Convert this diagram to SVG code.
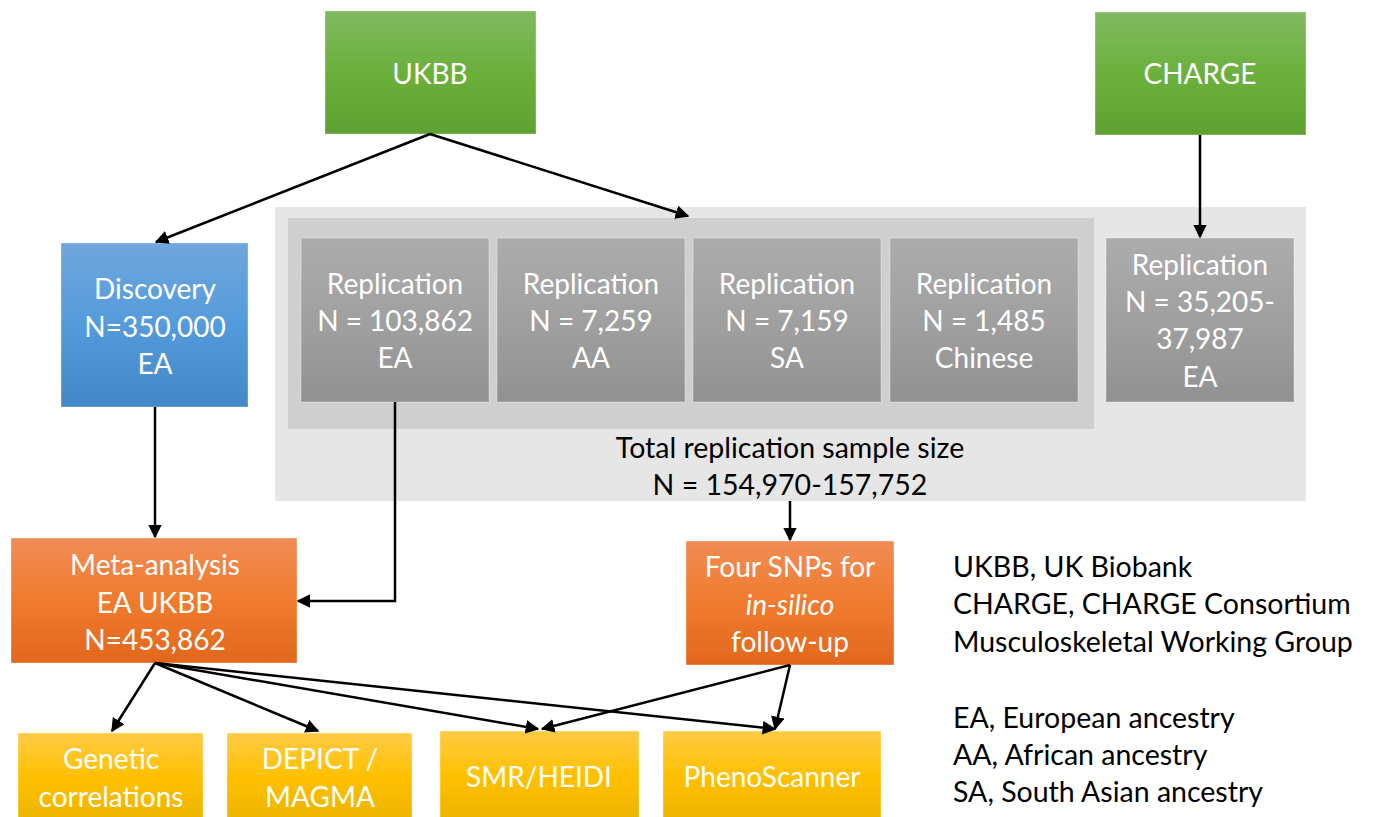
<svg xmlns="http://www.w3.org/2000/svg" width="1373" height="817" viewBox="0 0 1373 817">
<defs>
<linearGradient id="gGreen" x1="0" y1="0" x2="0" y2="1"><stop offset="0" stop-color="#80b960"/><stop offset="0.5" stop-color="#6cb03c"/><stop offset="1" stop-color="#5fa132"/></linearGradient>
<linearGradient id="gBlue" x1="0" y1="0" x2="0" y2="1"><stop offset="0" stop-color="#70a6dc"/><stop offset="0.5" stop-color="#549bdc"/><stop offset="1" stop-color="#4387c8"/></linearGradient>
<linearGradient id="gGray" x1="0" y1="0" x2="0" y2="1"><stop offset="0" stop-color="#acacac"/><stop offset="0.5" stop-color="#a0a0a0"/><stop offset="1" stop-color="#919191"/></linearGradient>
<linearGradient id="gOrange" x1="0" y1="0" x2="0" y2="1"><stop offset="0" stop-color="#f18c55"/><stop offset="0.5" stop-color="#f07b2e"/><stop offset="1" stop-color="#e2671c"/></linearGradient>
<linearGradient id="gYellow" x1="0" y1="0" x2="0" y2="1"><stop offset="0" stop-color="#ffcb45"/><stop offset="0.5" stop-color="#ffc000"/><stop offset="1" stop-color="#ebb400"/></linearGradient>
<marker id="arr" viewBox="0 0 10 10" refX="9" refY="5" markerWidth="5.5" markerHeight="5.5" orient="auto" markerUnits="strokeWidth"><path d="M0,0 L10,5 L0,10 z" fill="#000"/></marker>
</defs>
<style>
.t{font-family:Lato,"Open Sans",sans-serif;font-size:28px;fill:#fff;text-anchor:middle}
.k{font-family:Lato,"Open Sans",sans-serif;font-size:28.5px;fill:#000}
.c{stroke:#000;stroke-width:2.5;fill:none;marker-end:url(#arr)}
.box{stroke:#fff;stroke-opacity:0.35;stroke-width:1}
</style>
<rect x="0" y="0" width="1373" height="817" fill="#fff"/>
<g id="bg">
<rect x="275" y="207" width="1031" height="294" fill="#e6e6e6"/>
<rect x="288" y="218" width="806" height="211" fill="#d0cfcf"/>
<text class="k" x="790" y="458" text-anchor="middle" font-size="29">Total replication sample size</text>
<text class="k" x="790" y="495" text-anchor="middle" font-size="29">N = 154,970-157,752</text>
</g>
<g id="ukbb"><rect class="box" x="325" y="11" width="211" height="123" fill="url(#gGreen)"/><text class="t" x="430" y="84">UKBB</text></g>
<g id="charge"><rect class="box" x="1095" y="12" width="211" height="123" fill="url(#gGreen)"/><text class="t" x="1200" y="84">CHARGE</text></g>
<g id="discovery"><rect class="box" x="61" y="243" width="187" height="164" fill="url(#gBlue)"/><text class="t" x="155" y="299">Discovery</text><text class="t" x="155" y="337">N=350,000</text><text class="t" x="155" y="374">EA</text></g>
<g id="rep1"><rect class="box" x="301" y="238" width="188" height="164" fill="url(#gGray)"/><text class="t" x="395" y="294">Replication</text><text class="t" x="395" y="331">N = 103,862</text><text class="t" x="395" y="368">EA</text></g>
<g id="rep2"><rect class="box" x="497" y="238" width="188" height="164" fill="url(#gGray)"/><text class="t" x="591" y="294">Replication</text><text class="t" x="591" y="331">N = 7,259</text><text class="t" x="591" y="368">AA</text></g>
<g id="rep3"><rect class="box" x="693" y="238" width="188" height="164" fill="url(#gGray)"/><text class="t" x="787" y="294">Replication</text><text class="t" x="787" y="331">N = 7,159</text><text class="t" x="787" y="368">SA</text></g>
<g id="rep4"><rect class="box" x="890" y="238" width="188" height="164" fill="url(#gGray)"/><text class="t" x="984" y="294">Replication</text><text class="t" x="984" y="331">N = 1,485</text><text class="t" x="984" y="368">Chinese</text></g>
<g id="rep5"><rect class="box" x="1106" y="238" width="188" height="164" fill="url(#gGray)"/><text class="t" x="1200" y="275">Replication</text><text class="t" x="1200" y="312">N = 35,205-</text><text class="t" x="1200" y="349">37,987</text><text class="t" x="1200" y="387">EA</text></g>
<g id="meta"><rect class="box" x="11" y="538" width="286" height="125" fill="url(#gOrange)"/><text class="t" x="155" y="575">Meta-analysis</text><text class="t" x="155" y="613">EA UKBB</text><text class="t" x="155" y="650">N=453,862</text></g>
<g id="snps"><rect class="box" x="686" y="541" width="208" height="124" fill="url(#gOrange)"/><text class="t" x="790" y="577">Four SNPs for</text><text class="t" x="790" y="615" font-style="italic">in-silico</text><text class="t" x="790" y="652">follow-up</text></g>
<g id="genetic"><rect class="box" x="18" y="733" width="185" height="90" fill="url(#gYellow)"/><text class="t" x="111" y="769">Genetic</text><text class="t" x="111" y="807">correlations</text></g>
<g id="depict"><rect class="box" x="227" y="733" width="185" height="90" fill="url(#gYellow)"/><text class="t" x="320" y="769">DEPICT /</text><text class="t" x="320" y="807">MAGMA</text></g>
<g id="smr"><rect class="box" x="440" y="731" width="199" height="92" fill="url(#gYellow)"/><text class="t" x="539" y="787">SMR/HEIDI</text></g>
<g id="pheno"><rect class="box" x="663" y="731" width="218" height="92" fill="url(#gYellow)"/><text class="t" x="772" y="787">PhenoScanner</text></g>
<g id="legend">
<text class="k" x="953" y="577">UKBB, UK Biobank</text>
<text class="k" x="953" y="614">CHARGE, CHARGE Consortium</text>
<text class="k" x="953" y="652">Musculoskeletal Working Group</text>
<text class="k" x="953" y="728">EA, European ancestry</text>
<text class="k" x="953" y="765">AA, African ancestry</text>
<text class="k" x="953" y="802">SA, South Asian ancestry</text>
</g>
<g id="connectors">
<path class="c" d="M430,134 L156,242"/>
<path class="c" d="M430,134 L688,216"/>
<path class="c" d="M1200,135 L1200,237"/>
<path class="c" d="M155,407 L155,537"/>
<path class="c" d="M395,402 L395,601 L298,601"/>
<path class="c" d="M790,501 L790,540"/>
<path class="c" d="M155,663 L112,731"/>
<path class="c" d="M155,663 L318,731"/>
<path class="c" d="M155,663 L538,729"/>
<path class="c" d="M155,663 L775,729"/>
<path class="c" d="M790,665 L542,729"/>
<path class="c" d="M790,665 L775,729"/>
</g>
</svg>
